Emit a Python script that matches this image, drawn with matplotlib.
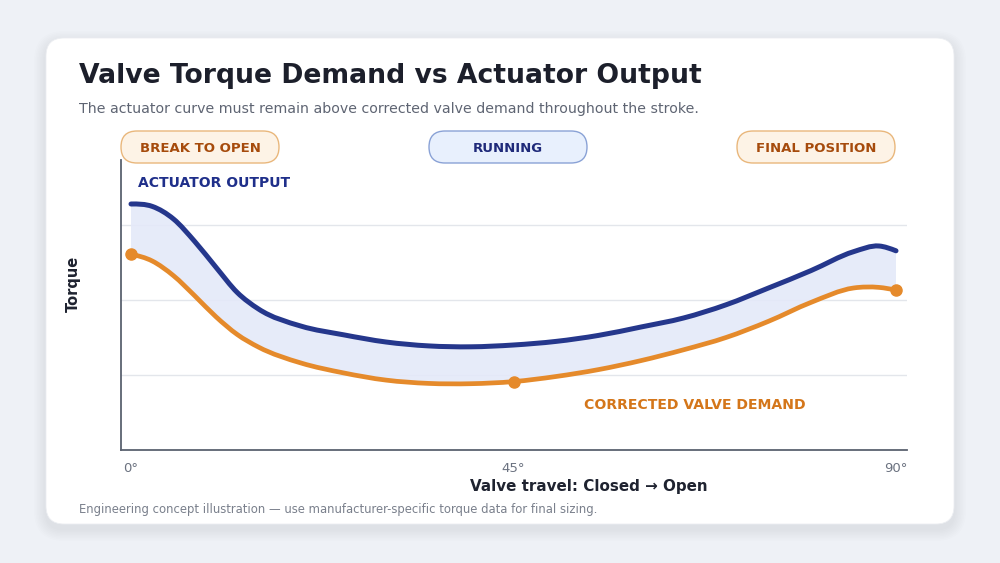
import matplotlib
matplotlib.use("Agg")
import numpy as np
import matplotlib.pyplot as plt
from matplotlib.patches import FancyBboxPatch, PathPatch
from matplotlib.path import Path

# ---------------- data ----------------
travel_deg = [0, 2.5, 5, 7.5, 10, 12.5, 15, 20, 25, 30, 35, 40, 45, 50, 55, 60, 65, 70, 75,
              80, 85, 88, 90]
actuator_output = [82.0, 81.2, 77.0, 69.5, 60.9, 52.5, 47.0, 41.3, 38.4, 36.0, 34.7, 34.4,
                   35.0, 36.2, 38.2, 41.0, 44.0, 48.4, 54.0, 59.8, 66.1, 68.0, 66.4]
valve_demand = [65.3, 63.0, 58.1, 51.4, 44.4, 38.5, 34.3, 29.0, 25.7, 23.3, 22.2, 22.1,
                22.8, 24.5, 26.8, 29.8, 33.4, 37.5, 42.9, 49.2, 54.0, 54.2, 53.3]
marker_deg = [0, 45, 90]
marker_demand = [65.3, 22.8, 53.3]
x_ticks = [0, 45, 90]
x_tick_labels = ["0°", "45°", "90°"]
grid_levels = [25, 50, 75]
phase_labels = ["BREAK TO OPEN", "RUNNING", "FINAL POSITION"]


def smooth_bezier(xs, ys):
    """Catmull-Rom style cubic curve through the points, as Bezier vertices/codes."""
    x = np.asarray(xs, float)
    y = np.asarray(ys, float)
    n = len(x)
    h = np.diff(x)
    s = np.diff(y) / h
    m = np.zeros(n)
    for i in range(1, n - 1):
        m[i] = (s[i - 1] * h[i] + s[i] * h[i - 1]) / (h[i - 1] + h[i])
    m[0] = (3 * s[0] - m[1]) / 2
    m[-1] = (3 * s[-1] - m[-2]) / 2
    verts = [(x[0], y[0])]
    codes = [Path.MOVETO]
    for i in range(n - 1):
        d = h[i] / 3
        verts += [(x[i] + d, y[i] + m[i] * d), (x[i + 1] - d, y[i + 1] - m[i + 1] * d),
                  (x[i + 1], y[i + 1])]
        codes += [Path.CURVE4] * 3
    return verts, codes


W, H = 1000, 563
fig = plt.figure(figsize=(W / 100, H / 100), dpi=100)
fig.patch.set_facecolor("#eef1f6")


def fx(px):
    return px / W


def fy(py):
    return 1 - py / H


# card with soft shadow
bg = fig.add_axes([0, 0, 1, 1], zorder=0)
bg.set_xlim(0, W)
bg.set_ylim(H, 0)
bg.axis("off")
for i in range(8):
    g = 12 - 1.5 * i
    bg.add_patch(FancyBboxPatch((46 - g, 38 - g + 5), 908 + 2 * g, 486 + 2 * g,
                                boxstyle="round,pad=0,rounding_size=%.1f" % (18 + g),
                                facecolor="#1f2a44", edgecolor="none", alpha=0.006))
bg.add_patch(FancyBboxPatch((46, 38), 908, 486, boxstyle="round,pad=0,rounding_size=18",
                            facecolor="white", edgecolor="#eceef2", lw=0.6))

# badges
badge_cfg = [
    (200, "#fdf3e6", "#e9b77c", "#a64b0c"),
    (508, "#e8f0fd", "#8aa2d6", "#1f2a7a"),
    (816, "#fdf3e6", "#e9b77c", "#a64b0c"),
]
for (cx, fc, ec, tc), lab in zip(badge_cfg, phase_labels):
    bg.add_patch(FancyBboxPatch((cx - 79, 131), 158, 32,
                                boxstyle="round,pad=0,rounding_size=16",
                                facecolor=fc, edgecolor=ec, lw=1.0))
    bg.text(cx, 148, lab, ha="center", va="center", fontsize=9.5, fontweight="bold",
            color=tc)

# main axes
left, right, top, bottom = 121, 907, 160, 450
ax = fig.add_axes([fx(left), fy(bottom), (right - left) / W, (bottom - top) / H], zorder=2)
ax.set_facecolor("none")
ax.set_xlim(-10 / 8.5, (907 - 131) / 8.5)
ax.set_ylim(0, (450 - 160) / 3)

for g in grid_levels:
    ax.axhline(g, color="#e3e6eb", lw=1.0, zorder=0)

top_v, top_c = smooth_bezier(travel_deg, actuator_output)
bot_v, bot_c = smooth_bezier(travel_deg[::-1], valve_demand[::-1])
fill_v = top_v + [bot_v[0]] + bot_v[1:] + [top_v[0]]
fill_c = top_c + [Path.LINETO] + bot_c[1:] + [Path.CLOSEPOLY]
ax.add_patch(PathPatch(Path(fill_v, fill_c), facecolor="#e4e9f9", edgecolor="none",
                       alpha=0.9, zorder=1))

ax.add_patch(PathPatch(Path(top_v, top_c), facecolor="none", edgecolor="#25378c", lw=3.6,
                       capstyle="round", joinstyle="round", zorder=3))
dem_v, dem_c = smooth_bezier(travel_deg, valve_demand)
ax.add_patch(PathPatch(Path(dem_v, dem_c), facecolor="none", edgecolor="#e58a2b", lw=3.4,
                       capstyle="round", joinstyle="round", zorder=3))
ax.plot(marker_deg, marker_demand, "o", color="#e58a2b", ms=8, zorder=4)

for s in ["top", "right"]:
    ax.spines[s].set_visible(False)
for s in ["left", "bottom"]:
    ax.spines[s].set_color("#5b6270")
    ax.spines[s].set_linewidth(1.3)
ax.set_yticks([])
ax.set_xticks(x_ticks)
ax.set_xticklabels(x_tick_labels, color="#6b7280", fontsize=9.5)
ax.tick_params(axis="x", length=0, pad=9)

ax.text(138, 183, "ACTUATOR OUTPUT", transform=bg.transData, ha="left", va="center",
        fontsize=10, fontweight="bold", color="#1f2f8a")
ax.text(584, 405, "CORRECTED VALVE DEMAND", transform=bg.transData, ha="left", va="center",
        fontsize=10.1, fontweight="bold", color="#d4761a")

# texts
fig.text(fx(79), fy(76), "Valve Torque Demand vs Actuator Output", ha="left", va="center",
         fontsize=19.2, fontweight="bold", color="#1c1f2b")
fig.text(fx(79), fy(109), "The actuator curve must remain above corrected valve demand throughout the stroke.",
         ha="left", va="center", fontsize=10.2, color="#5f6573")
fig.text(fx(73), fy(284), "Torque", rotation=90, ha="center", va="center", fontsize=10.5,
         fontweight="bold", color="#1f2330")
fig.text(fx(589), fy(487), "Valve travel: Closed → Open", ha="center", va="center",
         fontsize=10.9, fontweight="bold", color="#1f2330")
fig.text(fx(79), fy(510), "Engineering concept illustration — use manufacturer-specific torque data for final sizing.",
         ha="left", va="center", fontsize=8.35, color="#7a808c")

fig.savefig("out.png", dpi=100, facecolor=fig.get_facecolor())
